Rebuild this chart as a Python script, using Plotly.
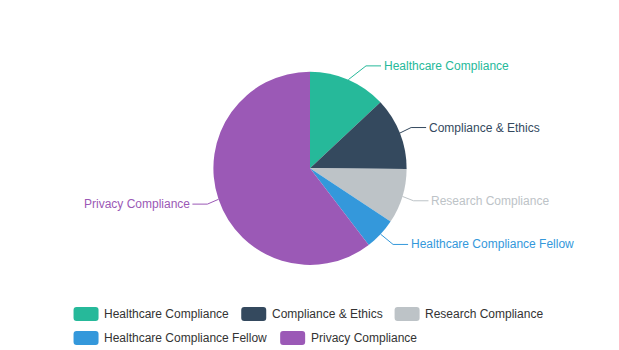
import math
import plotly.graph_objects as go

# Share of postings by compliance track
categories = [
    "Healthcare Compliance",
    "Compliance & Ethics",
    "Research Compliance",
    "Healthcare Compliance Fellow",
    "Privacy Compliance",
]
shares = [13.0, 12.1, 9.2, 5.3, 60.4]
colors = ["#26b99a", "#34495e", "#bdc3c7", "#3498db", "#9b59b6"]

# Canvas and pie geometry (pixels)
W, H = 619, 350
CX, CY, R = 310, 168.3, 96.6
LEN1, LEN2 = 15, 15          # leader line segment lengths
ELL_A, ELL_B = 107.5, 120    # ellipse used to place the leader elbows
FONT = "Liberation Sans, Arial, sans-serif"


def fx(x):
    return x / W


def fy(y):
    return 1 - y / H


fig = go.Figure(
    go.Pie(
        labels=categories,
        values=shares,
        sort=False,
        direction="clockwise",
        rotation=0,
        marker=dict(colors=colors, line=dict(width=0)),
        textinfo="none",
        hoverinfo="label+percent",
        showlegend=False,
        domain=dict(x=[fx(CX - R), fx(CX + R)], y=[fy(CY + R), fy(CY - R)]),
    )
)

shapes = []
annotations = []

# Outside labels with two-segment leader lines
total = sum(shares)
cum = 0.0
for name, val, col in zip(categories, shares, colors):
    mid = (cum + val / 2) / total * 2 * math.pi
    cum += val
    s, c = math.sin(mid), math.cos(mid)
    x0, y0 = CX + R * s, CY - R * c
    ly = CY - (R + LEN1) * c
    side = 1 if s >= 0 else -1
    dy = abs(ly - CY)
    ex = CX + side * ELL_A * math.sqrt(max(0.0, 1 - (dy / ELL_B) ** 2))
    x2 = ex + side * LEN2
    path = f"M {fx(x0)} {fy(y0)} L {fx(ex)} {fy(ly)} L {fx(x2)} {fy(ly)}"
    shapes.append(dict(type="path", xref="paper", yref="paper", path=path,
                       line=dict(color=col, width=1)))
    annotations.append(dict(
        x=fx(x2 + side * 0.5), y=fy(ly), xref="paper", yref="paper",
        text=name, showarrow=False,
        xanchor="left" if side > 0 else "right", yanchor="middle",
        font=dict(family=FONT, size=12, color=col),
    ))

# Legend drawn as rounded swatches + text, wrapped into centered rows
ARIAL = {
    " ": 278, "&": 667, "C": 722, "E": 667, "F": 611, "H": 722, "P": 667,
    "R": 722, "a": 556, "c": 500, "d": 556, "e": 556, "h": 556, "i": 222,
    "l": 222, "m": 833, "n": 556, "o": 556, "p": 556, "r": 333, "s": 500,
    "t": 278, "v": 500, "w": 722, "y": 500,
}


def text_w(t, size=12):
    return sum(ARIAL.get(ch, 556) for ch in t) * size / 1000 * 1.024


ICON_W, ICON_H, ICON_GAP, ITEM_GAP = 25, 14, 5, 10
MAX_ROW = W - 20
LEG_TOP, ROW_STEP = 314, 24

rows, row, roww = [], [], 0.0
for name, col in zip(categories, colors):
    w = ICON_W + ICON_GAP + text_w(name)
    add = w if not row else w + ITEM_GAP
    if row and roww + add > MAX_ROW:
        rows.append((row, roww))
        row, roww = [], 0.0
        add = w
    row.append((name, col, w))
    roww += add
rows.append((row, roww))

block_w = max(rw for _, rw in rows)
left = (W - block_w) / 2


def rounded_rect(x0, y0, x1, y1, r):
    pts = [
        ("M", x0 + r, y0), ("L", x1 - r, y0), ("Q", x1, y0, x1, y0 + r),
        ("L", x1, y1 - r), ("Q", x1, y1, x1 - r, y1), ("L", x0 + r, y1),
        ("Q", x0, y1, x0, y1 - r), ("L", x0, y0 + r), ("Q", x0, y0, x0 + r, y0),
    ]
    out = []
    for p in pts:
        cmd, coords = p[0], p[1:]
        xy = " ".join(f"{fx(coords[i])} {fy(coords[i + 1])}" for i in range(0, len(coords), 2))
        out.append(f"{cmd} {xy}")
    return " ".join(out) + " Z"


for ri, (items, _) in enumerate(rows):
    yc = LEG_TOP + ri * ROW_STEP
    x = left
    for name, col, w in items:
        shapes.append(dict(
            type="path", xref="paper", yref="paper",
            path=rounded_rect(x, yc - ICON_H / 2, x + ICON_W, yc + ICON_H / 2, 3),
            fillcolor=col, line=dict(width=0),
        ))
        annotations.append(dict(
            x=fx(x + ICON_W + ICON_GAP - 1.5), y=fy(yc), xref="paper", yref="paper",
            text=name, showarrow=False, xanchor="left", yanchor="middle",
            font=dict(family=FONT, size=12, color="#333333"),
        ))
        x += w + ITEM_GAP

fig.update_layout(
    width=W, height=H,
    margin=dict(l=0, r=0, t=0, b=0),
    paper_bgcolor="white", plot_bgcolor="white",
    shapes=shapes, annotations=annotations,
    showlegend=False,
)

fig.write_html("out.html")
